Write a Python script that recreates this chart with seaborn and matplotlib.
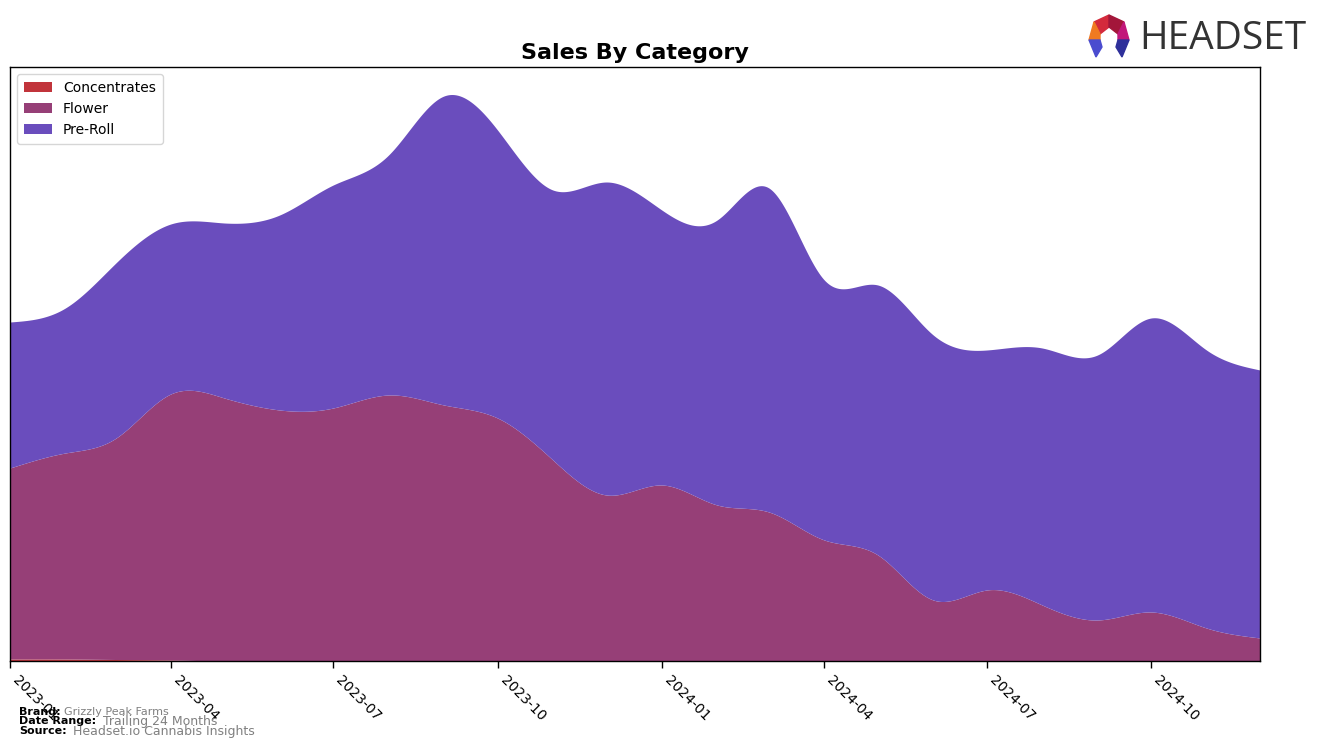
import numpy as np
import pandas as pd
import matplotlib
matplotlib.use("Agg")
import matplotlib.pyplot as plt
import matplotlib.dates as mdates
from matplotlib.patches import Polygon
import seaborn as sns

months = pd.date_range("2023-01-01", "2024-12-01", freq="MS")
concentrates = [2, 2, 1.5, 1, 0, 0, 0, 0, 0, 0, 0, 0, 0, 0, 0, 0, 0, 0, 0, 0, 0, 0, 0, 0]
flower = [191, 206, 221, 266, 263, 251, 253, 266, 256, 243, 201, 166,
          176, 156, 149, 121, 106, 61, 71, 56, 41, 49, 33, 23]
pre_roll = [146, 145, 175, 170, 175, 195, 223, 240, 309, 288, 270, 313,
            275, 285, 324, 260, 270, 265, 240, 257, 265, 294, 278, 268]
labels = ["Concentrates", "Flower", "Pre-Roll"]
colors = ["#c1343b", "#963f77", "#6a4dbd"]


def natural_spline(x, y, xs):
    x = np.asarray(x, float); y = np.asarray(y, float)
    n = len(x)
    h = np.diff(x)
    A = np.zeros((n, n)); b = np.zeros(n)
    A[0, 0] = 1; A[-1, -1] = 1
    for i in range(1, n - 1):
        A[i, i - 1] = h[i - 1]; A[i, i] = 2 * (h[i - 1] + h[i]); A[i, i + 1] = h[i]
        b[i] = 3 * ((y[i + 1] - y[i]) / h[i] - (y[i] - y[i - 1]) / h[i - 1])
    c = np.linalg.solve(A, b)
    idx = np.clip(np.searchsorted(x, xs) - 1, 0, n - 2)
    dx = xs - x[idx]
    bb = (y[idx + 1] - y[idx]) / h[idx] - h[idx] * (2 * c[idx] + c[idx + 1]) / 3
    d = (c[idx + 1] - c[idx]) / (3 * h[idx])
    return y[idx] + bb * dx + c[idx] * dx ** 2 + d * dx ** 3


sns.set_style("white")
plt.rcParams["font.family"] = ["DejaVu Sans"]
plt.rcParams["text.color"] = "black"
plt.rcParams["axes.labelcolor"] = "black"
plt.rcParams["xtick.color"] = "black"
plt.rcParams["ytick.color"] = "black"

fig = plt.figure(figsize=(13.24, 7.48), dpi=100)
ax = fig.add_axes([10 / 1324, 1 - 661 / 748, 1250 / 1324, 594 / 748])

xnum = mdates.date2num(months)
xs = np.linspace(xnum[0], xnum[-1], 800)
series = [concentrates, flower, pre_roll]
smooth = [np.clip(natural_spline(xnum, s, xs), 0, None) for s in series]
ax.stackplot(mdates.num2date(xs), *smooth, labels=labels, colors=colors, linewidth=0)

ax.set_xlim(months[0], months[-1])
ax.set_ylim(0, 594)
ax.set_yticks([])
ax.xaxis.set_major_locator(mdates.MonthLocator(bymonth=[1, 4, 7, 10]))
ax.xaxis.set_major_formatter(mdates.DateFormatter("%Y-%m"))
ax.tick_params(axis="x", length=5, width=1, color="black", labelcolor="black", labelsize=10, bottom=True)
for lab in ax.get_xticklabels():
    lab.set_rotation(-45)
    lab.set_ha("left")
for sp in ax.spines.values():
    sp.set_color("black"); sp.set_linewidth(1)

ax.set_title("Sales By Category", fontsize=16, fontweight="bold", pad=6, color="black")
leg = ax.legend(loc="upper left", fontsize=10, frameon=True, borderpad=0.5)
leg.get_frame().set_edgecolor("#cccccc")
for t in leg.get_texts():
    t.set_color("black")

# footer
fig.text(19 / 1324, 1 - 712 / 748, "Brand:", fontsize=8, fontweight="bold", va="center")
fig.text(64 / 1324, 1 - 712 / 748, "Grizzly Peak Farms", fontsize=8, color="gray", va="center")
fig.text(19 / 1324, 1 - 721 / 748, "Date Range:", fontsize=8, fontweight="bold", va="center")
fig.text(103 / 1324, 1 - 721 / 748, "Trailing 24 Months", fontsize=9, color="gray", va="center")
fig.text(19 / 1324, 1 - 731 / 748, "Source:", fontsize=8, fontweight="bold", va="center")
fig.text(73 / 1324, 1 - 731 / 748, "Headset.io Cannabis Insights", fontsize=9, color="gray", va="center")

# logo
lax = fig.add_axes([1084 / 1324, 1 - 62 / 748, 50 / 1324, 50 / 748])
lax.set_xlim(0, 50); lax.set_ylim(0, 50); lax.axis("off")
lax.add_patch(Polygon([(10, 40), (25, 47), (25, 35), (16, 28)], color="#d42a3c"))
lax.add_patch(Polygon([(25, 47), (40, 40), (34, 28), (25, 35)], color="#a3163a"))
lax.add_patch(Polygon([(40, 40), (45, 22), (34, 22), (34, 28)], color="#c2177a"))
lax.add_patch(Polygon([(10, 40), (5, 22), (16, 22), (16, 28)], color="#f07a22"))
lax.add_patch(Polygon([(5, 22), (16, 22), (18, 15), (12, 5)], color="#4a4ccf"))
lax.add_patch(Polygon([(45, 22), (34, 22), (32, 15), (38, 5)], color="#2e2f9a"))
fig.text(1139 / 1324, 1 - 39 / 748, "HEADSET", fontsize=28, color="#333333", va="center", ha="left",
         fontfamily=["Open Sans", "DejaVu Sans"])

fig.savefig("out.png", dpi=100)
